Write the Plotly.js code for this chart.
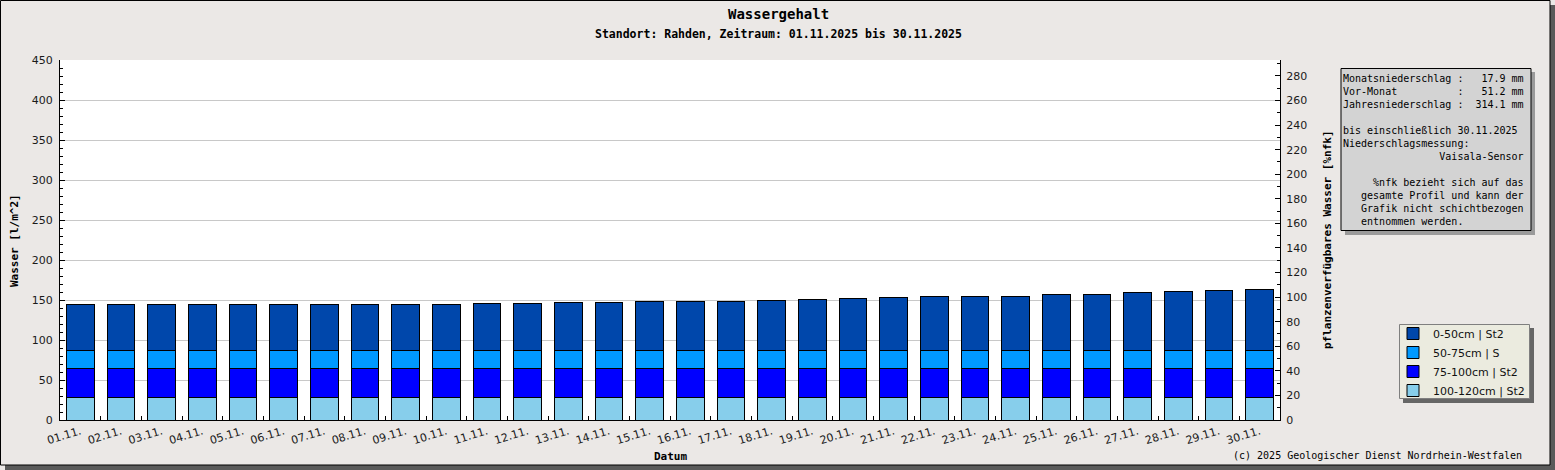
<!DOCTYPE html>
<html>
<head>
<meta charset="utf-8">
<script src="https://cdn.plot.ly/plotly-3.0.1.min.js"></script>
<style>
  html, body { margin: 0; padding: 0; background: #ebe8e6; }
  #chart { width: 1555px; height: 470px; }
</style>
</head>
<body>
<div id="chart"></div>
<script>
// ---- data ----
const dates = ['01.11.','02.11.','03.11.','04.11.','05.11.','06.11.','07.11.','08.11.','09.11.','10.11.',
               '11.11.','12.11.','13.11.','14.11.','15.11.','16.11.','17.11.','18.11.','19.11.','20.11.',
               '21.11.','22.11.','23.11.','24.11.','25.11.','26.11.','27.11.','28.11.','29.11.','30.11.'];

// water per layer [l/m^2]
const layer100_120 = [28.3,28.3,28.3,28.3,28.3,28.3,28.3,28.3,28.3,28.3,
                      28.3,28.3,28.3,28.3,28.3,28.3,28.3,28.3,28.3,28.3,
                      28.3,28.3,28.3,28.3,28.3,28.3,28.3,28.3,28.3,28.3];
const layer75_100  = [36.3,36.3,36.3,36.3,36.3,36.3,36.3,36.3,36.3,36.3,
                      36.3,36.3,36.3,36.3,36.3,36.3,36.3,36.3,36.3,36.3,
                      36.3,36.3,36.3,36.3,36.3,36.3,36.3,36.3,36.3,36.3];
const layer50_75   = [22.1,22.1,22.1,22.1,22.1,22.1,22.1,22.1,22.1,22.1,
                      22.1,22.1,22.1,22.1,22.1,22.1,22.1,22.1,22.1,22.1,
                      22.1,22.1,22.1,22.1,22.1,22.1,22.1,22.1,22.1,22.1];
const layer0_50    = [57.1,57.1,57.1,57.1,57.1,58.3,58.3,58.3,58.3,58.3,
                      59.1,59.1,60.4,60.4,61.6,61.6,61.6,62.9,64.1,65.4,
                      66.6,67.9,67.9,67.9,69.6,70.8,72.9,74.1,75.4,76.6];

const seriesNames = ['100-120cm | St2','75-100cm | St2','50-75cm | S','0-50cm | St2'];
const seriesColors = ['#87ceeb','#0000ff','#0099ff','#0047ab'];

const infoLines = [
  'Monatsniederschlag :   17.9 mm',
  'Vor-Monat          :   51.2 mm',
  'Jahresniederschlag :  314.1 mm',
  '',
  'bis einschließlich 30.11.2025',
  'Niederschlagsmessung:',
  '                Vaisala-Sensor',
  '',
  '     %nfk bezieht sich auf das',
  '   gesamte Profil und kann der',
  '   Grafik nicht schichtbezogen',
  '   entnommen werden.'
];

// ---- layout helpers (pixel -> paper) ----
const L = 60, T = 60, R = 275, B = 50, FW = 1555, FH = 470;
const PW = FW - L - R, PH = FH - T - B;
const px = x => (x - L) / PW;
const py = y => (FH - B - y) / PH;

const mono = 'DejaVu Sans Mono, monospace';
const sans = 'DejaVu Sans, sans-serif';

const layers = [layer100_120, layer75_100, layer50_75, layer0_50];
const traces = layers.map((vals, i) => ({
  type: 'bar',
  x: dates,
  y: vals,
  name: seriesNames[i],
  marker: { color: seriesColors[i], line: { color: '#000', width: 1 } },
  hoverinfo: 'x+y+name'
}));
// carrier for the right axis
traces.push({ type: 'scatter', x: [], y: [], yaxis: 'y2', showlegend: false, hoverinfo: 'skip' });

function rect(x0, y0, x1, y1, fill, line, lw) {
  return { type: 'rect', xref: 'paper', yref: 'paper', layer: 'above',
    x0: px(x0), x1: px(x1), y0: py(y0), y1: py(y1),
    fillcolor: fill, line: { color: line || 'rgba(0,0,0,0)', width: lw === undefined ? 0 : lw } };
}

const shapes = [
  // outer frame shadow + border
  rect(1550, 5, 1555, 470, '#5a5a5a'),
  rect(5, 465, 1555, 470, '#5a5a5a'),
  rect(0.5, 0.5, 1550, 465, 'rgba(0,0,0,0)', '#000', 1),
  // info box shadow + box
  rect(1345, 72, 1535, 235, '#9a9a9a'),
  rect(1341, 68.5, 1531, 230.5, '#d3d3d3', '#000', 1),
  // legend shadow + box
  rect(1403, 328, 1534, 403, '#666666'),
  rect(1399.5, 324.5, 1529.5, 398.5, '#ebebdf', '#7f7f7f', 1)
];

const annotations = [
  { text: '<b>Wassergehalt</b>', x: px(778), y: py(14), xanchor: 'center', yanchor: 'middle',
    font: { family: mono, size: 14, color: '#000' } },
  { text: '<b>Standort: Rahden, Zeitraum: 01.11.2025 bis 30.11.2025</b>', x: px(778), y: py(34),
    xanchor: 'center', yanchor: 'middle', font: { family: mono, size: 11.5, color: '#000' } },
  { text: '<b>Wasser [l/m^2]</b>', x: px(14), y: py(240), textangle: -90, xanchor: 'center', yanchor: 'middle',
    font: { family: mono, size: 11, color: '#000' } },
  { text: '<b>pflanzenverfügbares Wasser [%nfk]</b>', x: px(1327), y: py(240), textangle: -90,
    xanchor: 'center', yanchor: 'middle', font: { family: mono, size: 11, color: '#000' } },
  { text: '<b>Datum</b>', x: px(670), y: py(456), xanchor: 'center', yanchor: 'middle',
    font: { family: mono, size: 11, color: '#000' } },
  { text: '(c) 2025 Geologischer Dienst Nordrhein-Westfalen', x: px(1524), y: py(455),
    xanchor: 'right', yanchor: 'middle', font: { family: mono, size: 10, color: '#000' } },
  { text: infoLines.map(s => s.replace(/ /g, '\u00a0')).join('<br>'), x: px(1342), y: py(72),
    xanchor: 'left', yanchor: 'top', align: 'left', borderpad: 0,
    font: { family: mono, size: 10, color: '#000' } }
].map(a => Object.assign({ xref: 'paper', yref: 'paper', showarrow: false }, a));

const layout = {
  width: FW, height: FH,
  margin: { l: L, r: R, t: T, b: B, pad: 0 },
  paper_bgcolor: '#ebe8e6',
  plot_bgcolor: '#ffffff',
  barmode: 'stack',
  bargap: 0.32,
  showlegend: true,
  legend: {
    x: px(1393), y: py(319), xanchor: 'left', yanchor: 'top',
    bgcolor: 'rgba(0,0,0,0)', borderwidth: 0,
    font: { family: sans, size: 11, color: '#111' },
    traceorder: 'reversed', itemwidth: 30
  },
  xaxis: {
    type: 'category', showline: true, linecolor: '#000', linewidth: 1,
    ticks: 'inside', tickson: 'boundaries', ticklen: 4, tickcolor: '#000',
    tickangle: -17, showgrid: false, zeroline: false,
    tickfont: { family: sans, size: 11, color: '#1a1a1a' }, fixedrange: true
  },
  yaxis: {
    range: [0, 450], dtick: 50, tick0: 0, showline: true, linecolor: '#000', linewidth: 1,
    ticks: 'inside', ticklen: 5, tickcolor: '#000',
    minor: { dtick: 10, ticks: 'inside', ticklen: 3, tickcolor: '#000', showgrid: false },
    showgrid: true, gridcolor: '#c8c8c8', zeroline: false, ticklabelstandoff: 4,
    tickfont: { family: sans, size: 11, color: '#1a1a1a' }, fixedrange: true
  },
  yaxis2: {
    overlaying: 'y', side: 'right', range: [0, 293], dtick: 20, tick0: 0,
    showline: true, linecolor: '#000', linewidth: 1,
    ticks: 'inside', ticklen: 5, tickcolor: '#000',
    minor: { dtick: 10, ticks: 'inside', ticklen: 3, tickcolor: '#000', showgrid: false },
    showgrid: false, zeroline: false, ticklabelstandoff: 3,
    tickfont: { family: sans, size: 11, color: '#1a1a1a' }, fixedrange: true
  },
  shapes: shapes,
  annotations: annotations
};

Plotly.newPlot('chart', traces, layout, { displayModeBar: false, staticPlot: true });
</script>
</body>
</html>
